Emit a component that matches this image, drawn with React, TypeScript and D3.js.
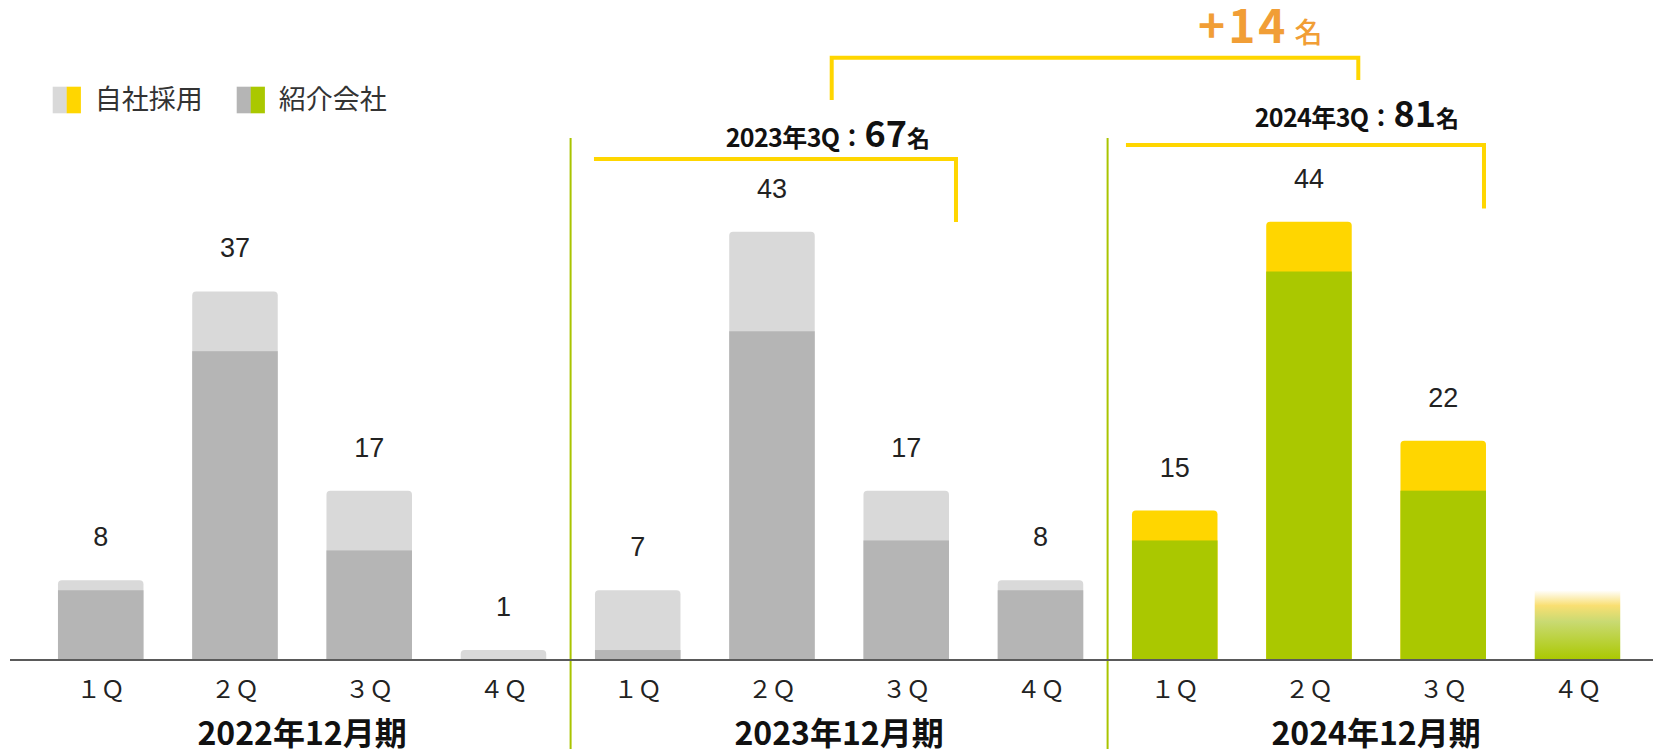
import React from "react";
import * as d3 from "d3";

// ─── data ────────────────────────────────────────────────────────────
const years = ["2022年12月期", "2023年12月期", "2024年12月期"];
const quarters = ["１Ｑ", "２Ｑ", "３Ｑ", "４Ｑ"];

// 紹介会社 (agency) and 自社採用 (own hiring) per quarter, null = not yet
const agency: (number | null)[][] = [
  [7, 31, 11, 0],
  [1, 33, 12, 7],
  [12, 39, 17, null],
];
const own: (number | null)[][] = [
  [1, 6, 6, 1],
  [6, 10, 5, 1],
  [3, 5, 5, null],
];
// 2024 4Q placeholder bar (faded)
const forecastValue = 7;

const legendItems = ["自社採用", "紹介会社"];

const ann2023 = { prefix: "2023年3Q", value: "67", unit: "名" };
const ann2024 = { prefix: "2024年3Q", value: "81", unit: "名" };
const diffLabel = { value: "+14", unit: "名" };

// ─── styles ──────────────────────────────────────────────────────────
const W = 1653;
const H = 749;
const baseY = 660;
const GRAY_LIGHT = "#d9d9d9";
const GRAY_DARK = "#b5b5b5";
const YELLOW = "#ffd600";
const GREEN = "#aac800";
const SEP_GREEN = "#a9c400";
const ORANGE = "#f19e36";
const CJK = "'Noto Sans CJK JP', 'Noto Sans', sans-serif";

const palette = [
  { own: GRAY_LIGHT, agency: GRAY_DARK },
  { own: GRAY_LIGHT, agency: GRAY_DARK },
  { own: YELLOW, agency: GREEN },
];

function topRounded(x: number, y: number, w: number, h: number, r: number) {
  const rr = Math.min(r, h, w / 2);
  return `M${x},${y + h}V${y + rr}Q${x},${y} ${x + rr},${y}H${x + w - rr}Q${x + w},${y} ${x + w},${y + rr}V${y + h}Z`;
}

export default function App() {
  const slots = years.flatMap((yr) => quarters.map((q) => `${yr}-${q}`));

  const x = d3
    .scaleBand<string>()
    .domain(slots)
    .range([33.6, 1644.6])
    .paddingInner(0.363)
    .paddingOuter(0.1815);

  const y = d3.scaleLinear().domain([0, 44]).range([baseY, 221.7]);

  const bw = x.bandwidth();
  const gap = x.step() - bw;
  const slotKey = (g: number, q: number) => `${years[g]}-${quarters[q]}`;
  const cx = (g: number, q: number) => (x(slotKey(g, q)) as number) + bw / 2;

  const bars: React.ReactNode[] = [];
  const labels: React.ReactNode[] = [];

  years.forEach((yr, g) => {
    quarters.forEach((q, i) => {
      const a = agency[g][i];
      const o = own[g][i];
      const x0 = x(slotKey(g, i)) as number;
      if (a === null || o === null) return;
      const total = a + o;
      bars.push(
        <path key={`t-${g}-${i}`} d={topRounded(x0, y(total), bw, baseY - y(total), 4)} fill={palette[g].own} />
      );
      if (a > 0) {
        bars.push(
          <rect key={`a-${g}-${i}`} x={x0} y={y(a)} width={bw} height={baseY - y(a)} fill={palette[g].agency} />
        );
      }
      labels.push(
        <text
          key={`l-${g}-${i}`}
          x={x0 + bw / 2}
          y={y(total) - 34}
          textAnchor="middle"
          fontFamily="'Liberation Sans', Arial, sans-serif"
          fontSize={27}
          fill="#222"
        >
          {total}
        </text>
      );
    });
  });

  // faded placeholder for 2024 4Q
  const fx = x(slotKey(2, 3)) as number;

  // separators between fiscal years
  const seps = [1, 2].map((g) => (x(slotKey(g, 0)) as number) - gap / 2);

  // brackets
  const b1L = (x(slotKey(1, 0)) as number) - 1;
  const b1R = (x(slotKey(1, 2)) as number) + bw + 7;
  const b2L = (x(slotKey(2, 0)) as number) - 6;
  const b2R = (x(slotKey(2, 2)) as number) + bw - 2;
  const b1Y = 159;
  const b2Y = 145;
  const ann1End = b1R - 26;
  const ann2End = b2R - 25;
  const topL = 831.7;
  const topR = 1358.3;
  const topY = 57.7;

  const annotation = (a: typeof ann2023, xe: number, yb: number) => (
    <text x={xe} y={yb} textAnchor="end" fontFamily={CJK} fontWeight={700} fill="#111">
      <tspan fontSize={25} letterSpacing={-0.6}>{a.prefix}</tspan>
      <tspan fontSize={25}>：</tspan>
      <tspan fontSize={36}>{a.value}</tspan>
      <tspan fontSize={23}>{a.unit}</tspan>
    </text>
  );

  return (
    <svg
      width={W}
      height={H}
      viewBox={`0 0 ${W} ${H}`}
      style={{ position: "absolute", left: 0, top: 0, display: "block", background: "#fff" }}
    >
      <defs>
        <linearGradient id="forecast-grad" x1="0" y1="0" x2="0" y2="1">
          <stop offset="0%" stopColor="#ffffff" />
          <stop offset="22%" stopColor="#f9df72" />
          <stop offset="45%" stopColor="#c9da72" />
          <stop offset="100%" stopColor={GREEN} />
        </linearGradient>
      </defs>

      {/* legend */}
      {legendItems.map((name, i) => {
        const lx = i === 0 ? 52.7 : 236.7;
        const col = i === 0 ? palette[2].own : palette[2].agency;
        const grey = i === 0 ? GRAY_LIGHT : GRAY_DARK;
        return (
          <g key={name}>
            <rect x={lx} y={86.7} width={14.2} height={26.6} fill={grey} />
            <rect x={lx + 14} y={86.7} width={14.2} height={26.6} fill={col} />
            <text x={lx + 42} y={108.5} fontFamily={CJK} fontSize={27} fill="#333">
              {name}
            </text>
          </g>
        );
      })}

      {/* separators */}
      {seps.map((sx, i) => (
        <line key={i} x1={sx} x2={sx} y1={138} y2={H} stroke={SEP_GREEN} strokeWidth={2} />
      ))}

      {bars}
      <rect x={fx} y={y(forecastValue)} width={bw} height={baseY - y(forecastValue)} fill="url(#forecast-grad)" />

      {/* baseline */}
      <line x1={10} x2={W} y1={baseY} y2={baseY} stroke="#5a5a5a" strokeWidth={2} />

      {labels}

      {/* quarter ticks */}
      {years.map((yr, g) =>
        quarters.map((q, i) => (
          <text
            key={`q-${g}-${i}`}
            x={cx(g, i)}
            y={698}
            textAnchor="middle"
            fontFamily={CJK}
            fontSize={24}
            fill="#222"
          >
            {q}
          </text>
        ))
      )}

      {/* fiscal year labels */}
      {years.map((yr, g) => (
        <text
          key={yr}
          x={(cx(g, 0) + cx(g, 3)) / 2}
          y={745}
          textAnchor="middle"
          fontFamily={CJK}
          fontWeight={700}
          fontSize={32}
          fill="#111"
        >
          {yr}
        </text>
      ))}

      {/* brackets */}
      <path d={`M${b1L},${b1Y}H${b1R}V222`} fill="none" stroke={YELLOW} strokeWidth={4} />
      <path d={`M${b2L},${b2Y}H${b2R}V208.5`} fill="none" stroke={YELLOW} strokeWidth={4} />
      <path d={`M${topL},100V${topY}H${topR}V80`} fill="none" stroke={YELLOW} strokeWidth={4} />

      {annotation(ann2023, ann1End, 147)}
      {annotation(ann2024, ann2End, 127)}

      <text x={1198} y={43} fontFamily={CJK} fill={ORANGE}>
        <tspan fontSize={46} fontWeight={700} letterSpacing={3}>{diffLabel.value}</tspan>
        <tspan dx={6} fontSize={28} fontWeight={500}>{diffLabel.unit}</tspan>
      </text>
    </svg>
  );
}
